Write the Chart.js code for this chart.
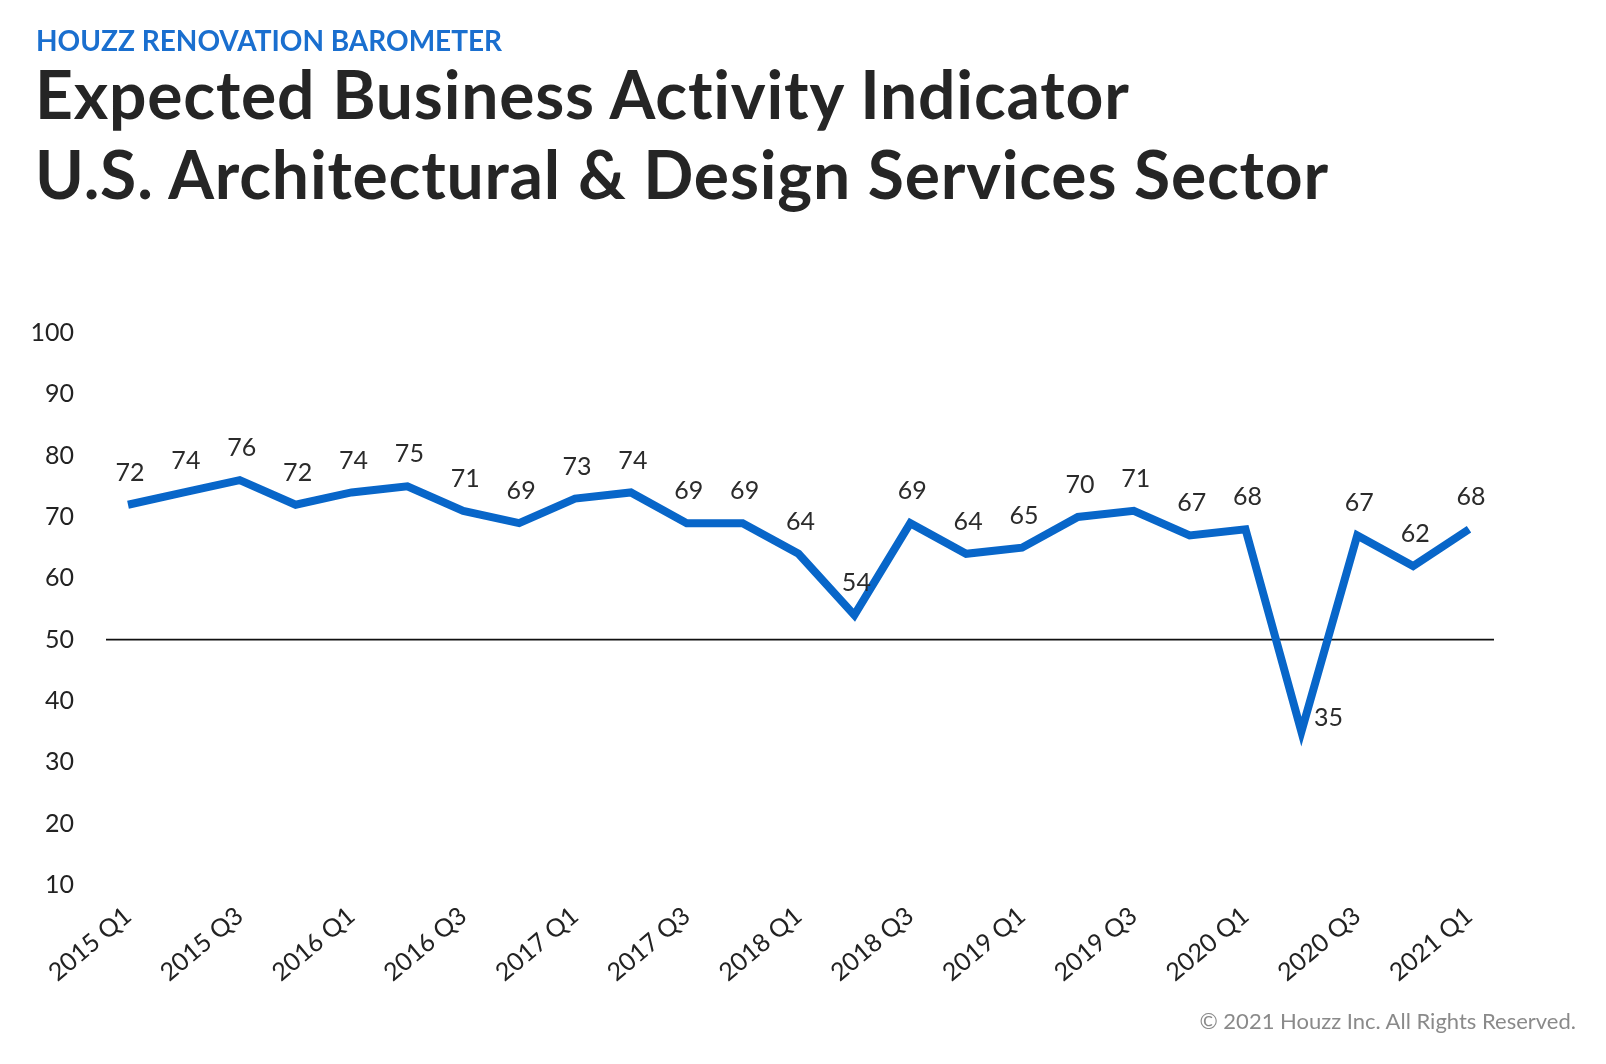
<!DOCTYPE html>
<html>
<head>
<meta charset="utf-8">
<script src="https://cdn.jsdelivr.net/npm/chart.js@4/dist/chart.umd.min.js"></script>
<style>
  html, body { margin: 0; padding: 0; background: #fff; }
  body { width: 1606px; height: 1064px; position: relative; overflow: hidden; font-family: Lato, 'Open Sans', sans-serif; }
  #kicker { position: absolute; left: 36px; top: 23px; font-size: 28px; font-weight: 700; color: #1a6fcf; }
  .title { position: absolute; left: 35px; font-size: 66px; font-weight: 700; color: #252525; white-space: nowrap; letter-spacing: 0.8px; }
  #t1 { top: 54px; }
  #t2 { top: 134px; }
  #foot { position: absolute; right: 30px; top: 1007px; font-size: 22px; color: #8a8a8a; }
  #wrap { position: absolute; left: 0; top: 0; width: 1606px; height: 1064px; }
</style>
</head>
<body>
<div id="wrap"><canvas id="myChart" width="1606" height="1064"></canvas></div>
<div id="kicker">HOUZZ RENOVATION BAROMETER</div>
<div class="title" id="t1">Expected Business Activity Indicator</div>
<div class="title" id="t2">U.S. Architectural &amp; Design Services Sector</div>
<div id="foot">© 2021 Houzz Inc. All Rights Reserved.</div>
<script>
const quarters = [
    '2015 Q1', '2015 Q2', '2015 Q3', '2015 Q4',
    '2016 Q1', '2016 Q2', '2016 Q3', '2016 Q4',
    '2017 Q1', '2017 Q2', '2017 Q3', '2017 Q4',
    '2018 Q1', '2018 Q2', '2018 Q3', '2018 Q4',
    '2019 Q1', '2019 Q2', '2019 Q3', '2019 Q4',
    '2020 Q1', '2020 Q2', '2020 Q3', '2020 Q4',
    '2021 Q1'
]
const indicador = [
    72, 74, 76, 72,
    74, 75, 71, 69,
    73, 74, 69, 69,
    64, 54, 69, 64,
    65, 70, 71, 67,
    68, 35, 67, 62,
    68
]
const y_ticks = [10, 20, 30, 40, 50, 60, 70, 80, 90, 100]
const linha_base = 50

// rotulos de valor em cima de cada ponto
const rotulos = {
    id: 'rotulos',
    afterDatasetsDraw(chart) {
        const ctx = chart.ctx
        const meta = chart.getDatasetMeta(0)
        ctx.save()
        ctx.font = '25px Lato, sans-serif'
        ctx.fillStyle = '#2b2b2b'
        ctx.textAlign = 'center'
        ctx.textBaseline = 'middle'
        meta.data.forEach((pt, i) => {
            const v = indicador[i]
            if (v < linha_base) {
                ctx.fillText(String(v), pt.x + 27, pt.y - 14)
            } else {
                ctx.fillText(String(v), pt.x + 2, pt.y - 32)
            }
        })
        ctx.restore()
    }
}

// linha horizontal no 50
const linha50 = {
    id: 'linha50',
    beforeDatasetsDraw(chart) {
        const ctx = chart.ctx
        const y = chart.scales.y.getPixelForValue(linha_base)
        const area = chart.chartArea
        ctx.save()
        ctx.strokeStyle = '#111'
        ctx.lineWidth = 1.6
        ctx.beginPath()
        ctx.moveTo(area.left - 22, y)
        ctx.lineTo(area.right + 25, y)
        ctx.stroke()
        ctx.restore()
    }
}

const ctx = document.getElementById('myChart').getContext('2d')
const options = {
    responsive: false,
    animation: false,
    layout: {
        padding: { top: 333, left: 0, right: 137, bottom: 0 }
    },
    plugins: {
        legend: { display: false },
        tooltip: { enabled: false }
    },
    scales: {
        x: {
            grid: { display: false, drawTicks: false },
            border: { display: false },
            afterFit: (scale) => { scale.height = 179 },
            ticks: {
                autoSkip: false,
                maxRotation: 40,
                minRotation: 40,
                padding: 16,
                color: '#222',
                font: { family: 'Lato', size: 25 },
                callback: (val, i) => i % 2 === 0 ? quarters[i] : ''
            }
        },
        y: {
            min: 10,
            max: 100,
            grid: { display: false, drawTicks: false },
            border: { display: false },
            afterFit: (scale) => { scale.width = 128 },
            afterBuildTicks: (scale) => { scale.ticks = y_ticks.map(v => ({ value: v })) },
            ticks: {
                padding: 54,
                color: '#222',
                font: { family: 'Lato', size: 25 }
            }
        }
    }
}

const myChart = new Chart(ctx, {
    type: 'line',
    data: {
        labels: quarters,
        datasets: [
            {
                label: 'Expected Business Activity',
                data: indicador,
                borderColor: '#0866c9',
                backgroundColor: '#0866c9',
                borderWidth: 8,
                borderJoinStyle: 'miter',
                pointRadius: 0,
                tension: 0
            }
        ]
    },
    options,
    plugins: [linha50, rotulos]
})
</script>
</body>
</html>
